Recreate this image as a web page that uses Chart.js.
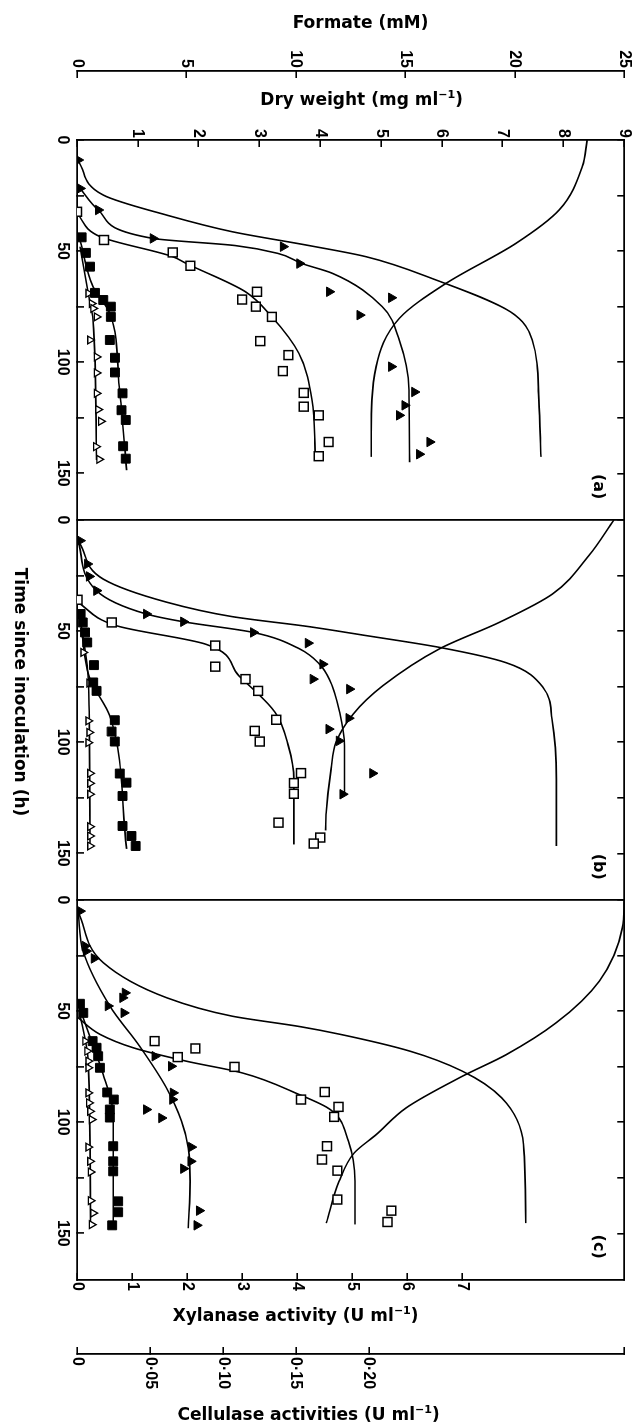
<!DOCTYPE html>
<html>
<head>
<meta charset="utf-8">
<script src="https://cdn.jsdelivr.net/npm/chart.js@4.4.1/dist/chart.umd.min.js"></script>
<style>
  html, body { margin: 0; padding: 0; background: #fff; overflow: hidden; }
  /* figure is drawn landscape, then turned a quarter clockwise like the printed page */
  #wrap { position: absolute; left: 0; top: 0; width: 1425px; height: 632px;
          transform-origin: 0 0; transform: translate(632px, 0) rotate(90deg); }
</style>
</head>
<body>
<div id="wrap"><canvas id="fig" width="1425" height="632"></canvas></div>
<script>
// ---- axes ----
const PANEL_H = 171;                       // hours shown in each panel
const panelNames = ['(a)', '(b)', '(c)'];
const timeTicks = [0, 25, 50, 75, 100, 125, 150];
const xylTicks = [0, 1, 2, 3, 4, 5, 6, 7];
const celTicks = [0, 0.05, 0.10, 0.15, 0.20];
const titleFormate = ['Formate (mM)'];
const titleDry = ['Dry weight (mg ml', '\u22121', ')'];
const titleXyl = ['Xylanase activity (U ml', '\u22121', ')'];
const titleCel = ['Cellulase activities (U ml', '\u22121', ')'];
const titleTime = 'Time since inoculation (h)';

// ---- panel (a) ----  [time h, value]
const formateCurveA = [[9.8,0.06],[24.8,1.2],[33.8,4.1],[41.3,7.1],[47.5,10.6],[52.5,13.2],[63,16.4],[77.3,19.8],[90,20.8],[117,21.1],[142.6,21.2]];
const dryCurveA = [[0,8.39],[12,8.31],[31.5,7.93],[46.5,7.22],[64.5,6.07],[80.3,5.30],[102,4.92],[132,4.84],[142.6,4.84]];
const triPtsA = [[9,0.02],[21.8,0.05],[31.5,0.35],[44.3,1.25],[48,3.39],[55.6,3.66],[68.3,4.15],[71,5.17],[78.8,4.65],[102,5.17],[113.4,5.55],[119.4,5.39],[123.9,5.3],[135.9,5.8],[141.4,5.63]];
const triFitA = [[21.8,0.05],[31.5,0.35],[44.3,1.25],[47.5,2.6],[51,3.3],[55.6,3.7],[60,4.2],[75,5.02],[90,5.3],[112.6,5.46],[145,5.47]];
const xylPtsA = [[32.3,0],[45,0.49],[50.6,1.74],[56.6,2.06],[68.3,3.27],[71.8,3.0],[75,3.25],[79.6,3.54],[90.5,3.33],[96.8,3.84],[104,3.74],[113.8,4.12],[120,4.12],[123.9,4.39],[135.9,4.57],[142.3,4.39]];
const xylFitA = [[33,0],[43.5,0.42],[52.5,1.74],[55.5,1.98],[68.3,3.06],[79.6,3.54],[96,4.03],[117,4.27],[142,4.33]];
const celSqPtsA = [[43.8,0.0032],[50.8,0.0061],[57,0.0089],[68.8,0.0123],[72,0.018],[75,0.0232],[79.6,0.0232],[90,0.0225],[98,0.026],[104.6,0.026],[114,0.0312],[121.6,0.0305],[126,0.0334],[137.8,0.0316],[143.4,0.0334]];
const celSqFitA = [[45,0.002],[66,0.011],[78,0.0225],[111,0.029],[148.6,0.034]];
const celTriPtsA = [[69,0.0077],[73.6,0.01],[75.8,0.0111],[79.6,0.0134],[90,0.0089],[97.6,0.0134],[104.8,0.0134],[114,0.0134],[121.3,0.0145],[126.6,0.0164],[138,0.013],[143.7,0.0152]];
const celTriFitA = [[48,0.002],[69,0.0077],[81,0.011],[144,0.0134]];

// ---- panel (b) ----
const formateCurveB = [[10.8,0.14],[26.6,1.2],[37,4.1],[43.5,7.1],[48,10.6],[52,13.2],[57.4,16.6],[64.2,19.6],[75.4,21.3],[89.6,21.7],[116.7,21.9],[146.7,21.9]];
const dryCurveB = [[0,8.83],[16,8.42],[33.3,7.82],[46,6.95],[58,5.96],[74.6,5.03],[87.4,4.54],[100,4.26],[112,4.18],[131.5,4.10],[139.7,4.09]];
const triPtsB = [[9.3,0.05],[19.8,0.17],[25.4,0.2],[31.8,0.32],[42.3,1.14],[45.8,1.75],[50.6,2.9],[55.4,3.8],[64.9,4.04],[71.6,3.88],[76.1,4.48],[89.2,4.47],[94.1,4.14],[99.4,4.31],[114,4.86],[123.4,4.37]];
const triFitB = [[9.3,0.02],[31.8,0.32],[42.3,1.14],[45.8,1.75],[50.6,2.9],[58,3.66],[64.9,3.99],[71.6,4.15],[86.6,4.32],[101.7,4.4],[123,4.4]];
const xylPtsB = [[35.9,0.01],[46.1,0.63],[56.5,2.51],[66,2.51],[71.6,3.06],[76.9,3.29],[89.9,3.62],[94.9,3.23],[99.7,3.32],[113.9,4.07],[118.4,3.94],[123.2,3.94],[136.2,3.66],[142.9,4.42],[145.6,4.3]];
const xylFitB = [[36.8,0],[47.6,0.72],[55.9,2.34],[70.1,2.94],[86.6,3.6],[101.7,3.84],[116.7,3.94],[146,3.94]];
const celSqPtsB = [[42.3,0.0025],[46.1,0.0039],[50.6,0.0055],[55.1,0.007],[65.3,0.0116],[73.1,0.0111],[76.9,0.0134],[90.1,0.0259],[95.2,0.0237],[99.7,0.0259],[114.1,0.0293],[118.2,0.0339],[124.2,0.0312],[137.7,0.0312],[142.2,0.0373],[146.7,0.0402]];
const celSqFitB = [[41.6,0.002],[71.6,0.0089],[88.1,0.0225],[148,0.034]];
const celTriPtsB = [[59.6,0.0043],[73.4,0.0084],[90.4,0.0077],[95.6,0.0084],[100.2,0.0077],[114,0.0089],[118.5,0.0089],[123.4,0.0089],[138,0.0089],[142.2,0.0089],[146.7,0.0089]];
const celTriFitB = [[44.6,0.002],[65.6,0.007],[86.6,0.0084],[146.7,0.0089]];

// ---- panel (c) ----
const formateCurveC = [[5.7,0.06],[28.2,1.2],[44,4.1],[52.3,7.1],[57,10.2],[60.4,12.0],[68,15.2],[77,17.6],[89,19.4],[110,20.4],[145.4,20.5]];
const dryCurveC = [[0,9.0],[12.5,8.97],[36.5,8.59],[55.3,7.88],[69.6,7.06],[79.3,6.34],[93.6,5.41],[105.6,4.92],[113.8,4.56],[126.6,4.31],[145.4,4.10]];
const triPtsC = [[5,0.05],[20.7,0.13],[23,0.15],[26.3,0.28],[41.8,0.79],[44,0.75],[47.7,0.51],[50.8,0.77],[70.3,1.28],[74.8,1.55],[86.8,1.58],[89.8,1.57],[94.3,1.14],[98.1,1.39],[111.2,1.88],[117.6,1.87],[120.9,1.75],[139.8,2.01],[146.4,1.97]];
const triFitC = [[5.7,0.02],[23,0.1],[47.7,0.54],[65.8,1.03],[84.5,1.47],[99.5,1.72],[111.6,1.83],[126.6,1.86],[147.7,1.83]];
const xylPtsC = [[63.5,1.41],[66.8,2.15],[70.7,1.83],[75.1,2.86],[86.4,4.5],[89.8,4.07],[93.1,4.75],[97.6,4.67],[110.8,4.54],[116.8,4.45],[121.8,4.73],[134.8,4.73],[139.8,5.71],[144.9,5.64]];
const xylFitC = [[52.6,0],[60.5,0.42],[66.5,1.02],[72.5,1.98],[77.8,3.0],[87.5,4.03],[94.3,4.6],[108.6,4.93],[126.6,5.05],[146,5.05]];
const celSqPtsC = [[46.7,0.002],[50.8,0.0043],[63.5,0.0107],[66.5,0.0134],[70.3,0.0145],[75.5,0.0157],[86.6,0.0207],[89.8,0.0252],[94.3,0.0225],[97.9,0.0225],[110.8,0.0248],[117.6,0.0248],[122.1,0.0248],[135.6,0.0282],[140.5,0.0282],[146.4,0.0241]];
const celSqFitC = [[47,0.001],[63.5,0.01],[78.6,0.018],[96.6,0.0248],[147.7,0.0248]];
const celTriPtsC = [[63.5,0.0055],[68,0.007],[72.5,0.0077],[75.5,0.0077],[86.8,0.0077],[91.3,0.0082],[95.1,0.0089],[98.8,0.01],[111.2,0.0077],[117.6,0.0089],[122.4,0.0093],[135.3,0.0093],[140.9,0.0111],[146.1,0.01]];
const celTriFitC = [[51.5,0.002],[72.5,0.0077],[146.8,0.0093]];

const panels = [
  [formateCurveA, dryCurveA, triPtsA, triFitA, xylPtsA, xylFitA, celSqPtsA, celSqFitA, celTriPtsA, celTriFitA],
  [formateCurveB, dryCurveB, triPtsB, triFitB, xylPtsB, xylFitB, celSqPtsB, celSqFitB, celTriPtsB, celTriFitB],
  [formateCurveC, dryCurveC, triPtsC, triFitC, xylPtsC, xylFitC, celSqPtsC, celSqFitC, celTriPtsC, celTriFitC]
];

const tickFont = { family: 'Liberation Sans', size: 16, weight: 'bold' };
const TITLE_FONT = 'bold 17px "DejaVu Sans"';
const SUP_FONT = 'bold 11px "DejaVu Sans"';

function shift(arr, p) { return arr.map(([t, v]) => ({ x: t + p * PANEL_H, y: v })); }

function pts(arr, p, axis, style, filled, r, bw) {
  return {
    data: shift(arr, p), yAxisID: axis, showLine: false,
    pointStyle: style, pointRadius: r, pointHoverRadius: r,
    pointBackgroundColor: filled ? '#000' : '#fff',
    pointBorderColor: '#000', pointBorderWidth: bw
  };
}
function fit(arr, p, axis) {
  return {
    data: shift(arr, p), yAxisID: axis, showLine: true, pointRadius: 0,
    borderColor: '#000', borderWidth: 1.6, fill: false, cubicInterpolationMode: 'monotone'
  };
}

const markers = [], curves = [];
panels.forEach(([form, dry, triP, triF, xylP, xylF, sqP, sqF, otP, otF], p) => {
  markers.push(pts(xylP, p, 'yXyl', 'rect', false, 6.3, 1.5));
  markers.push(pts(sqP, p, 'yCel', 'rect', true, 6.3, 1));
  markers.push(pts(otP, p, 'yCel', 'triangle', false, 4.5, 1.3));
  markers.push(pts(triP, p, 'yDry', 'triangle', true, 5.5, 1));
  curves.push(fit(form, p, 'yForm'), fit(dry, p, 'yDry'), fit(triF, p, 'yDry'),
              fit(xylF, p, 'yXyl'), fit(sqF, p, 'yCel'), fit(otF, p, 'yCel'));
});

const xTickValues = [];
[0, 1, 2].forEach(p => timeTicks.forEach(t => xTickValues.push(p * PANEL_H + t)));

function drawTitle(ctx, parts, x, y, rot) {
  ctx.save();
  ctx.translate(x, y);
  ctx.rotate(rot);
  ctx.textAlign = 'left';
  ctx.textBaseline = 'middle';
  const widths = parts.map((t, i) => { ctx.font = i === 1 ? SUP_FONT : TITLE_FONT; return ctx.measureText(t).width; });
  let cx = -widths.reduce((a, b) => a + b, 0) / 2;
  parts.forEach((t, i) => {
    ctx.font = i === 1 ? SUP_FONT : TITLE_FONT;
    ctx.fillText(t, cx, i === 1 ? -6 : 0);
    cx += widths[i];
  });
  ctx.restore();
}

const decor = {
  id: 'decor',
  afterDraw(chart) {
    const ctx = chart.ctx, a = chart.chartArea, s = chart.scales;
    const midY = (a.top + a.bottom) / 2;
    ctx.save();
    ctx.fillStyle = '#000';
    drawTitle(ctx, titleFormate, s.yForm.left + 24, midY - 10, -Math.PI / 2);
    drawTitle(ctx, titleDry, s.yDry.left + 30, midY - 11, -Math.PI / 2);
    drawTitle(ctx, titleXyl, s.yXyl.left + 37, midY + 55, -Math.PI / 2);
    drawTitle(ctx, titleCel, s.yCel.left + 62, midY + 42, -Math.PI / 2);
    drawTitle(ctx, [titleTime], (a.left + a.right) / 2 - 18, s.x.top + 58, 0);
    ctx.font = TITLE_FONT.replace('17px', '16px');
    ctx.textAlign = 'center';
    ctx.textBaseline = 'middle';
    panelNames.forEach((n, p) => ctx.fillText(n, s.x.getPixelForValue(p * PANEL_H + 156), a.top + 26));
    ctx.restore();
  }
};

// vertical axes: fixed width, and no extra room asked for their end labels
const fixWidth = w => ax => { ax.width = w; ax.paddingTop = 0; ax.paddingBottom = 0; };
const inwardGrid = { drawOnChartArea: false, color: '#000', tickColor: '#000', lineWidth: 1.6, tickLength: -7 };
const frameBorder = { display: true, color: '#000', width: 1.8 };

new Chart(document.getElementById('fig'), {
  type: 'scatter',
  data: { datasets: markers.concat(curves) },
  plugins: [decor],
  options: {
    responsive: false, animation: false,
    layout: { padding: 0 },
    plugins: { legend: { display: false }, tooltip: { enabled: false } },
    scales: {
      x: {
        type: 'linear', position: 'bottom', min: 0, max: 3 * PANEL_H,
        afterBuildTicks: ax => { ax.ticks = xTickValues.map(v => ({ value: v })); },
        afterFit: ax => { ax.height = 77; ax.paddingLeft = 0; ax.paddingRight = 0; },
        border: frameBorder,
        grid: {
          drawOnChartArea: true, lineWidth: 1.8, tickLength: -7, tickColor: '#000', tickWidth: 1.6,
          color: c => (c.tick && c.tick.value > 0 && c.tick.value < 3 * PANEL_H && c.tick.value % PANEL_H === 0) ? '#000' : 'rgba(0,0,0,0)'
        },
        ticks: {
          autoSkip: false, maxRotation: 0, minRotation: 0, padding: 12, color: '#000', font: tickFont,
          callback: v => { const t = Math.round(v % PANEL_H); return t % 50 === 0 ? String(t) : ''; }
        }
      },
      xTop: {
        type: 'linear', position: 'top', min: 0, max: 3 * PANEL_H,
        afterBuildTicks: ax => { ax.ticks = xTickValues.map(v => ({ value: v })); },
        afterFit: ax => { ax.height = 6; ax.paddingLeft = 0; ax.paddingRight = 0; },
        border: frameBorder,
        grid: inwardGrid,
        ticks: { display: false }
      },
      yDry: {
        type: 'linear', position: 'left', min: 0, max: 9,
        afterFit: fixWidth(69),
        border: frameBorder, grid: inwardGrid,
        ticks: { stepSize: 1, padding: 9, color: '#000', font: tickFont, callback: v => v === 0 ? '' : String(v) }
      },
      yForm: {
        type: 'linear', position: 'left', min: 0, max: 25,
        afterFit: fixWidth(71),
        border: frameBorder, grid: inwardGrid,
        ticks: { stepSize: 5, padding: 10, color: '#000', font: tickFont }
      },
      yXyl: {
        type: 'linear', position: 'right', min: 0, max: 9.94,
        afterBuildTicks: ax => { ax.ticks = xylTicks.map(v => ({ value: v })); },
        afterFit: fixWidth(74),
        border: frameBorder, grid: inwardGrid,
        ticks: { padding: 9, color: '#000', font: tickFont, callback: v => String(v) }
      },
      yCel: {
        type: 'linear', position: 'right', min: 0, max: 0.375,
        afterBuildTicks: ax => { ax.ticks = celTicks.concat([0.375]).map(v => ({ value: v })); },
        afterFit: fixWidth(71),
        border: frameBorder, grid: inwardGrid,
        ticks: {
          padding: 10, color: '#000', font: tickFont,
          callback: v => v === 0 ? '0' : (v > 0.2001 ? '' : v.toFixed(2).replace('.', '\u00b7'))
        }
      }
    }
  }
});
</script>
</body>
</html>
